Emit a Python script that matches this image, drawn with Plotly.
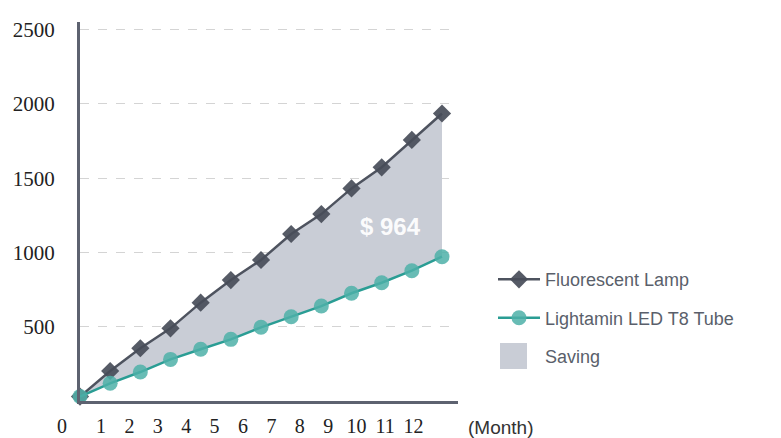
import plotly.graph_objects as go

months = list(range(13))
month_labels = [str(m) for m in months]
fluorescent = [30, 202, 355, 489, 662, 814, 949, 1124, 1258, 1431, 1573, 1757, 1935]
led = [30, 119, 195, 280, 348, 415, 496, 567, 639, 725, 796, 877, 971]
y_ticks = [500, 1000, 1500, 2000, 2500]
saving_label = "$ 964"

DARK = "#4e535f"
TEAL = "#2a9d94"
TEAL_M = "rgba(78,176,168,0.85)"
FILL = "#c9cdd6"

# page body has an 8px margin: figure coordinates = screen coordinates - 8
OFF = 8
FIG_W, FIG_H = 781 - OFF, 438 - OFF
plot_l, plot_r = 50 - OFF, 458 - OFF
plot_t, plot_b = 22 - OFF, 401 - OFF
W = plot_r - plot_l
H = plot_b - plot_t
x0_px = 80 - OFF

# month-label axis: label "1" at screen x=101, step 28.4 px; label "0" sits left of the axis
lab_scale = 28.4
lab_r0 = 1 - ((101 - OFF) - plot_l) / lab_scale
label_pos = [1 - 39 / lab_scale] + months[1:]

fig = go.Figure()

# helper trace for the label-only axis
fig.add_trace(go.Scatter(x=[], y=[], xaxis="x2", yaxis="y2", showlegend=False, hoverinfo="skip"))

# saving band between the two series
fig.add_trace(go.Scatter(x=months + months[::-1], y=fluorescent + led[::-1], mode="none",
                         fill="toself", fillcolor=FILL, showlegend=False, hoverinfo="skip"))

fig.add_trace(go.Scatter(x=months, y=fluorescent, mode="lines+markers", name="Fluorescent Lamp",
                         line=dict(color=DARK, width=2.5),
                         marker=dict(symbol="diamond", size=14, color="rgba(72,77,89,0.92)"),
                         cliponaxis=False, legendrank=1, legendgroup="a"))
fig.add_trace(go.Scatter(x=months, y=led, mode="lines+markers", name="Lightamin LED T8 Tube",
                         line=dict(color=TEAL, width=2.5),
                         marker=dict(symbol="circle", size=15, color=TEAL_M),
                         cliponaxis=False, legendrank=2, legendgroup="b"))
# legend entry for the saving band (icon drawn as a shape below)
fig.add_trace(go.Scatter(x=[None], y=[None], mode="markers", name="Saving",
                         marker=dict(size=1, color="rgba(0,0,0,0)"),
                         legendrank=3, legendgroup="c"))

fig.add_annotation(x=months[-1] - 1.72, y=(fluorescent[-1] + led[-1]) / 2 - 280,
                   text="<b>" + saving_label + "</b>", showarrow=False,
                   font=dict(family="Liberation Sans, Arial", size=24, color="rgba(255,255,255,0.95)"))

fig.add_annotation(xref="paper", yref="paper", x=(466 - OFF - plot_l) / W, y=0,
                   xanchor="left", yanchor="top", yshift=-14, text="(Month)", showarrow=False,
                   font=dict(family="Liberation Sans, Arial", size=19, color="#333333"))

# legend swatch for "Saving"
def px_x(sx):
    return (sx - OFF - plot_l) / W

def px_y(sy):
    return (plot_b - (sy - OFF)) / H

fig.add_shape(type="rect", xref="paper", yref="paper",
              x0=px_x(500), x1=px_x(527), y0=px_y(369), y1=px_y(343),
              fillcolor=FILL, line=dict(width=0), layer="above")

fig.update_layout(
    width=FIG_W, height=FIG_H,
    margin=dict(l=plot_l, r=FIG_W - plot_r, t=plot_t, b=FIG_H - plot_b, autoexpand=False),
    paper_bgcolor="white", plot_bgcolor="rgba(0,0,0,0)",
    xaxis=dict(domain=[(x0_px - plot_l) / W, 1], range=[0, 12.53], showgrid=False, zeroline=False,
               showline=True, linecolor="#5d6270", linewidth=3, showticklabels=False, ticks="",
               automargin=False),
    xaxis2=dict(domain=[0, 1], anchor="y2", range=[lab_r0, lab_r0 + W / lab_scale],
                tickvals=label_pos, ticktext=month_labels, showgrid=False, zeroline=False, showline=False,
                ticks="", ticklabelstandoff=11, automargin=False,
                tickfont=dict(family="Liberation Serif, Times New Roman", size=20, color="#222222")),
    yaxis2=dict(domain=[0, 1], anchor="x2", range=[0, 1], visible=False, automargin=False),
    yaxis=dict(range=[0, 2551], tickvals=y_ticks, ticktext=[str(v) for v in y_ticks],
               showgrid=True, gridcolor="#d4d4d4", griddash="dash", gridwidth=1,
               zeroline=False, showline=True, linecolor="#5d6270", linewidth=3,
               ticks="", ticklabelstandoff=18, automargin=False,
               tickfont=dict(family="Liberation Serif, Times New Roman", size=21, color="#222222")),
    legend=dict(x=px_x(493), y=0.369, xanchor="left", yanchor="top", tracegroupgap=12,
                font=dict(family="Liberation Sans, Arial", size=18, color="#5a5f6b"),
                bgcolor="rgba(0,0,0,0)", itemwidth=42),
    showlegend=True,
)

fig.write_html("out.html")
